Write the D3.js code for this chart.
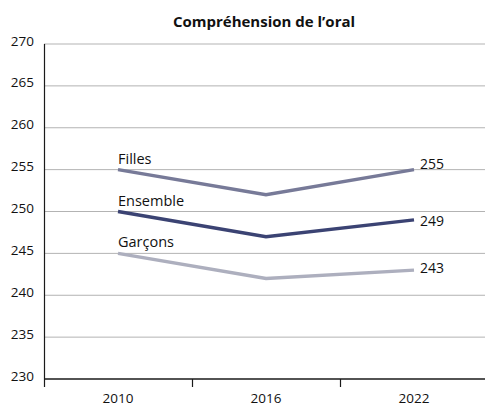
<!DOCTYPE html>
<html>
<head>
<meta charset="utf-8">
<script src="https://cdn.jsdelivr.net/npm/d3@7"></script>
<style>
  html, body { margin: 0; padding: 0; background: #fff; }
  svg text { font-family: "Open Sans", "Noto Sans", sans-serif; fill: #111; }
</style>
</head>
<body>
<svg id="chart" width="485" height="406"></svg>
<script>
const title = "Compréhension de l\u2019oral";
const years = ["2010", "2016", "2022"];
const yTicks = [230, 235, 240, 245, 250, 255, 260, 265, 270];
const seriesNames = ["Filles", "Ensemble", "Garçons"];
const filles = [255, 252, 255];
const ensemble = [250, 247, 249];
const garcons = [245, 242, 243];

const seriesValues = [filles, ensemble, garcons];
const colors = ["#777a98", "#3b4373", "#adafbe"];
// vertical nudge of the end-value labels (baseline offset from the last point)
const endDy = [-1, 6, 3];

const svg = d3.select("#chart");
const margin = { left: 44, right: 0, top: 44, bottom: 27 };
const W = 485, H = 406;
const fs = "13.5px";

const x = d3.scaleBand().domain(years).range([margin.left, 488]).paddingInner(0).paddingOuter(0);
const y = d3.scaleLinear().domain([230, 270]).range([379, 44]);

// Title
svg.append("text")
  .attr("x", 264).attr("y", 27)
  .attr("text-anchor", "middle")
  .style("font-weight", "bold").style("font-size", "15px")
  .text(title);

// Horizontal gridlines
svg.append("g").selectAll("line")
  .data(yTicks.filter(d => d !== 230))
  .join("line")
  .attr("x1", margin.left).attr("x2", W)
  .attr("y1", d => y(d)).attr("y2", d => y(d))
  .attr("stroke", "#b3b3b3").attr("stroke-width", 1);

// Y tick labels
svg.append("g").selectAll("text")
  .data(yTicks)
  .join("text")
  .attr("x", 34).attr("y", d => y(d) + 1.5)
  .attr("text-anchor", "end")
  .style("font-size", fs)
  .text(d => d);

// Y axis line
svg.append("line")
  .attr("x1", margin.left + 0.5).attr("x2", margin.left + 0.5)
  .attr("y1", y(270)).attr("y2", 387)
  .attr("stroke", "#1a1a1a").attr("stroke-width", 1.2);

// X axis baseline and band ticks
svg.append("line")
  .attr("x1", margin.left).attr("x2", W)
  .attr("y1", y(230)).attr("y2", y(230))
  .attr("stroke", "#1a1a1a").attr("stroke-width", 1.5);
svg.append("g").selectAll("line")
  .data(years.slice(1))
  .join("line")
  .attr("x1", d => Math.round(x(d)) + 0.5).attr("x2", d => Math.round(x(d)) + 0.5)
  .attr("y1", y(230)).attr("y2", 387)
  .attr("stroke", "#1a1a1a").attr("stroke-width", 1.2);

// X labels
svg.append("g").selectAll("text")
  .data(years)
  .join("text")
  .attr("x", d => x(d) + x.bandwidth() / 2)
  .attr("y", 403)
  .attr("text-anchor", "middle")
  .style("font-size", fs)
  .text(d => d);

// Lines
const line = d3.line()
  .x((d, i) => x(years[i]) + x.bandwidth() / 2)
  .y(d => y(d));

seriesValues.forEach((vals, k) => {
  svg.append("path")
    .datum(vals)
    .attr("d", line)
    .attr("fill", "none")
    .attr("stroke", colors[k])
    .attr("stroke-width", 3.5);

  // series name above the first point
  svg.append("text")
    .attr("x", x(years[0]) + x.bandwidth() / 2)
    .attr("y", y(vals[0]) - 6)
    .style("font-size", "14.5px")
    .text(seriesNames[k]);

  // value at the last point
  const last = vals[vals.length - 1];
  svg.append("text")
    .attr("x", x(years[years.length - 1]) + x.bandwidth() / 2 + 6)
    .attr("y", y(last) + endDy[k])
    .style("font-size", "14px")
    .text(last);
});
</script>
</body>
</html>
